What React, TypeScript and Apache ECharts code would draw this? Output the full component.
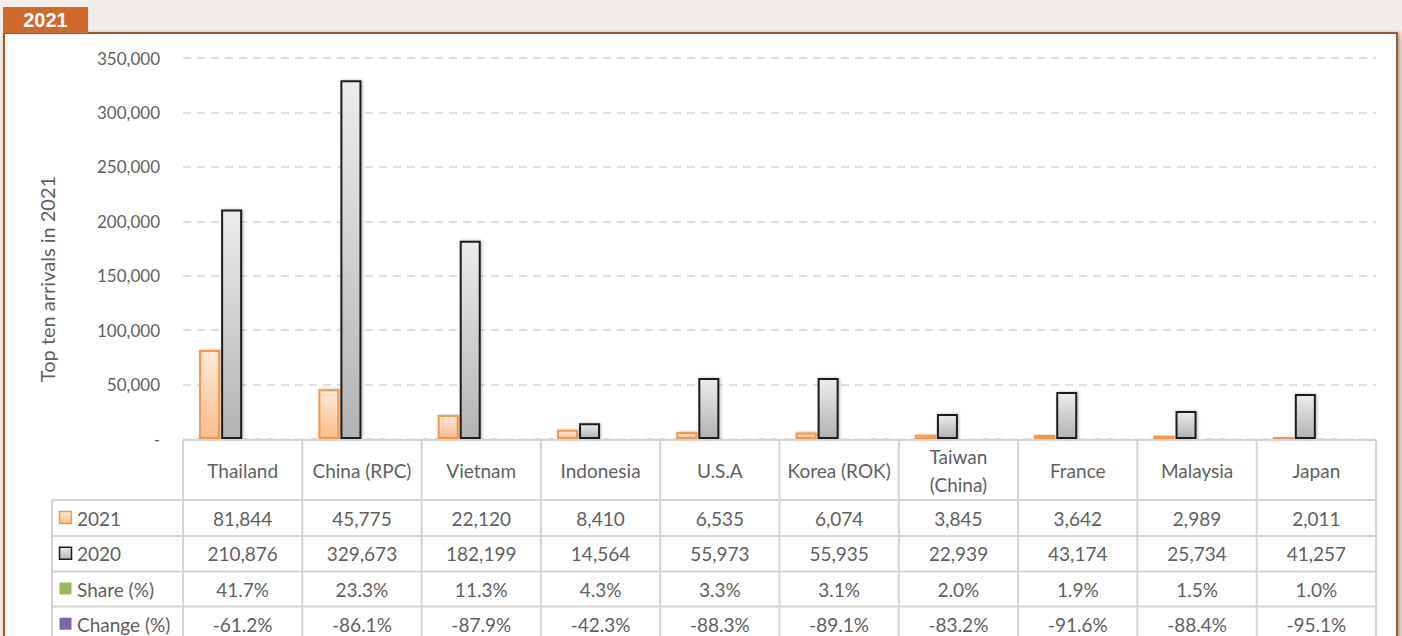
import React, { useEffect, useRef } from "react";
import * as echarts from "echarts";

const categories = ["Thailand", "China (RPC)", "Vietnam", "Indonesia", "U.S.A", "Korea (ROK)", "Taiwan\n(China)", "France", "Malaysia", "Japan"];
const arrivals2021 = [81844, 45775, 22120, 8410, 6535, 6074, 3845, 3642, 2989, 2011];
const arrivals2020 = [210876, 329673, 182199, 14564, 55973, 55935, 22939, 43174, 25734, 41257];
const sharePct = [41.7, 23.3, 11.3, 4.3, 3.3, 3.1, 2.0, 1.9, 1.5, 1.0];
const changePct = [-61.2, -86.1, -87.9, -42.3, -88.3, -89.1, -83.2, -91.6, -88.4, -95.1];
const seriesNames = ["2021", "2020", "Share (%)", "Change (%)"];
const yMin = 0;
const yMax = 350000;
const yStep = 50000;
const tabTitle = "2021";
const yAxisTitle = "Top ten arrivals in 2021";

const FONT = "Lato, 'Open Sans', sans-serif";
const TXT = "#5f5f5f";
const LINE = "#d4d4d4";

const orangeGrad = () =>
  new echarts.graphic.LinearGradient(0, 0, 0, 1, [
    { offset: 0, color: "#fdeadb" },
    { offset: 1, color: "#fabd8c" },
  ]);
const grayGrad = () =>
  new echarts.graphic.LinearGradient(0, 0, 0, 1, [
    { offset: 0, color: "#ececec" },
    { offset: 1, color: "#b3b3b3" },
  ]);

const fmt = (v: number) => v.toLocaleString("en-US");

export default function App() {
  const ref = useRef<HTMLDivElement>(null);
  useEffect(() => {
    if (!ref.current) return;
    const chart = echarts.init(ref.current, null, { renderer: "svg" });

    const W = 1402;
    const GL = 183;
    const GR = 1376;
    const GT = 58;
    const GB = 439;
    const colW = (GR - GL) / categories.length;
    const rowEdges = [500, 536, 571.5, 606.5, 642];
    const legendLeft = 52;

    const g: any[] = [];
    // main white box
    g.push({
      type: "rect",
      z: -10,
      shape: { x: 4, y: 33, width: 1393, height: 640 },
      style: { fill: "#ffffff", stroke: "#a9532d", lineWidth: 2, shadowBlur: 4, shadowColor: "rgba(0,0,0,0.35)", shadowOffsetX: 2, shadowOffsetY: 1 },
    });
    // tab
    g.push({ type: "rect", z: -9, shape: { x: 3, y: 7, width: 85, height: 26 }, style: { fill: "#cf6a2a" } });
    g.push({
      type: "text",
      z: -8,
      x: 45.5,
      y: 20,
      style: { text: tabTitle, fill: "#ffffff", font: "bold 20px 'Liberation Sans', Arial, sans-serif", align: "center", verticalAlign: "middle" },
    });
    // y axis title
    g.push({
      type: "text",
      z: 6,
      x: 47,
      y: 279,
      rotation: Math.PI / 2,
      style: { text: yAxisTitle, fill: TXT, font: `20px ${FONT}`, align: "center", verticalAlign: "middle" },
    });

    // table lines
    const hl = (y: number, x1: number, x2: number) =>
      g.push({ type: "line", z: 5, shape: { x1, y1: y, x2, y2: y }, style: { stroke: LINE, lineWidth: 2 } });
    const vl = (x: number, y1: number, y2: number) =>
      g.push({ type: "line", z: 5, shape: { x1: x, y1, x2: x, y2 }, style: { stroke: LINE, lineWidth: 2 } });
    hl(440, GL, GR);
    rowEdges.slice(0, 4).forEach((y) => hl(y, legendLeft, GR));
    for (let i = 0; i <= categories.length; i++) vl(GL + i * colW, 440, 642);
    vl(legendLeft, 500, 642);

    // header texts
    categories.forEach((c, i) => {
      g.push({
        type: "text",
        z: 6,
        x: GL + (i + 0.5) * colW,
        y: 470,
        style: { text: c, fill: TXT, font: `19px ${FONT}`, align: "center", verticalAlign: "middle", lineHeight: 28 },
      });
    });

    const rows = [
      arrivals2021.map(fmt),
      arrivals2020.map(fmt),
      sharePct.map((v) => v.toFixed(1) + "%"),
      changePct.map((v) => v.toFixed(1) + "%"),
    ];
    const markers = [
      { fill: orangeGrad(), stroke: "#f79646" },
      { fill: grayGrad(), stroke: "#1a1a1a" },
      { fill: "#9bbb59", stroke: null },
      { fill: "#8064a2", stroke: null },
    ];
    rows.forEach((vals, r) => {
      const cy = (rowEdges[r] + rowEdges[r + 1]) / 2;
      const m = markers[r];
      g.push({
        type: "rect",
        z: 6,
        shape: { x: 59.5, y: cy - 6.5, width: 12, height: 12 },
        style: { fill: m.fill, stroke: m.stroke || undefined, lineWidth: m.stroke ? 1.5 : 0 },
      });
      g.push({
        type: "text",
        z: 6,
        x: 77,
        y: cy,
        style: { text: seriesNames[r], fill: TXT, font: `19px ${FONT}`, align: "left", verticalAlign: "middle" },
      });
      vals.forEach((v, i) => {
        g.push({
          type: "text",
          z: 6,
          x: GL + (i + 0.5) * colW,
          y: cy,
          style: { text: v, fill: TXT, font: `19px ${FONT}`, align: "center", verticalAlign: "middle" },
        });
      });
    });

    const barShadow = { shadowBlur: 3, shadowColor: "rgba(0,0,0,0.3)", shadowOffsetX: 1, shadowOffsetY: 0 };

    chart.setOption({
      animation: false,
      backgroundColor: "#f1eeea",
      textStyle: { fontFamily: FONT },
      grid: { left: GL, right: W - GR, top: GT, bottom: 636 - GB, containLabel: false },
      xAxis: {
        type: "category",
        data: categories,
        axisLine: { show: false },
        axisTick: { show: false },
        axisLabel: { show: false },
      },
      yAxis: {
        type: "value",
        min: yMin,
        max: yMax,
        interval: yStep,
        axisLine: { show: false },
        axisTick: { show: false },
        axisLabel: {
          color: TXT,
          fontSize: 17,
          fontFamily: FONT,
          margin: 23,
          formatter: (v: number) => (v === 0 ? "-" : fmt(v)),
        },
        splitLine: {
          show: true,
          lineStyle: { color: "#d6d6d6", width: 1.5, type: [8, 6] },
        },
      },
      graphic: g,
      series: [
        {
          name: seriesNames[0],
          type: "bar",
          data: arrivals2021,
          barWidth: 21,
          barGap: "5%",
          itemStyle: { color: orangeGrad(), borderColor: "#f79646", borderWidth: 2, ...barShadow },
        },
        {
          name: seriesNames[1],
          type: "bar",
          data: arrivals2020,
          barWidth: 21,
          barGap: "5%",
          itemStyle: { color: grayGrad(), borderColor: "#1f1f1f", borderWidth: 2, ...barShadow },
        },
        {
          name: seriesNames[2],
          type: "bar",
          data: sharePct,
          barWidth: 21,
          barGap: "5%",
          silent: true,
          itemStyle: { color: "#9bbb59", opacity: 0 },
        },
        {
          name: seriesNames[3],
          type: "bar",
          data: changePct,
          barWidth: 21,
          barGap: "5%",
          silent: true,
          itemStyle: { color: "#8064a2", opacity: 0 },
        },
      ],
    });
    return () => chart.dispose();
  }, []);
  return <div ref={ref} style={{ position: "fixed", left: 0, top: 0, width: 1402, height: 636 }} />;
}
